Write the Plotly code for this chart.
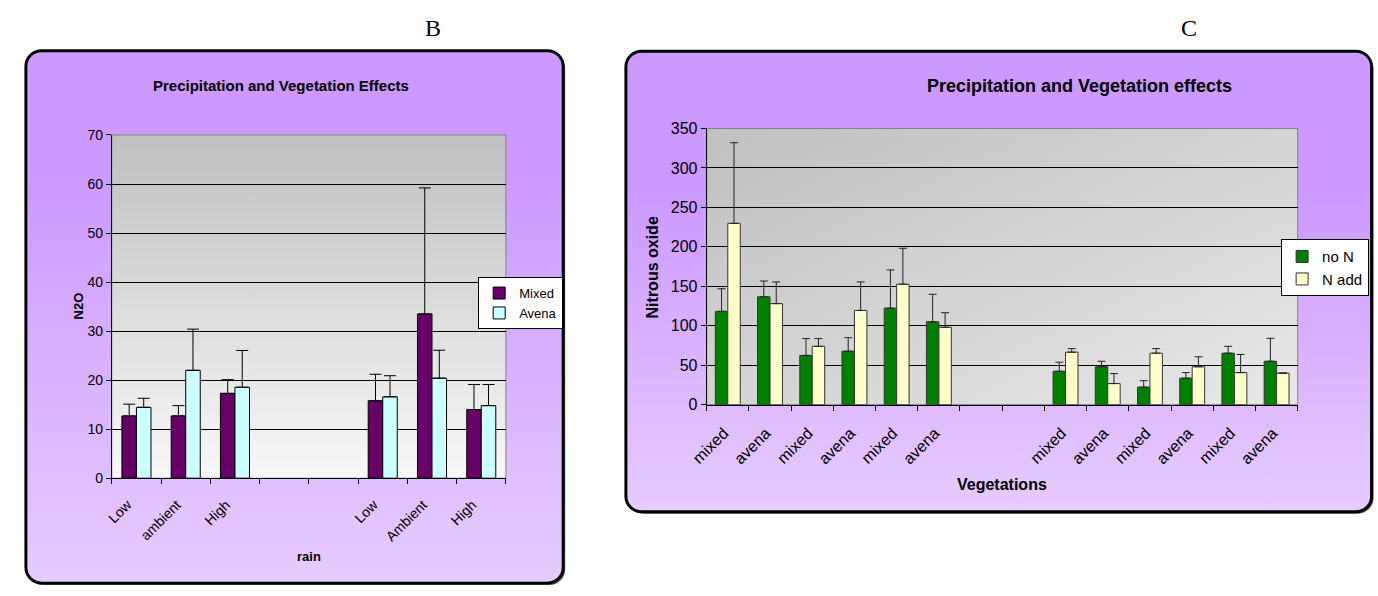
import base64
import plotly.graph_objects as go

W, H = 1378, 596

# ---------------- Panel B data ----------------
b_labels = ["Low", "ambient", "High", "", "", "Low", "Ambient", "High"]
b_mixed = [12.7, 12.7, 17.3, None, None, 15.8, 33.5, 14.0]
b_mixed_err = [2.4, 2.1, 2.8, None, None, 5.4, 25.7, 5.1]
b_avena = [14.45, 22.0, 18.55, None, None, 16.6, 20.4, 14.8]
b_avena_err = [1.85, 8.4, 7.5, None, None, 4.3, 5.7, 4.3]
b_yticks = [0, 10, 20, 30, 40, 50, 60, 70]

# ---------------- Panel C data ----------------
c_labels = ["mixed", "avena", "mixed", "avena", "mixed", "avena", "", "",
            "mixed", "avena", "mixed", "avena", "mixed", "avena"]
c_non = [118.2, 136.6, 62.4, 67.7, 122.3, 105.0, None, None,
         42.3, 48.0, 22.2, 33.6, 65.2, 55.0]
c_non_err = [28.7, 20.1, 21.3, 17.2, 48.4, 34.9, None, None,
             11.5, 7.0, 8.2, 7.0, 8.7, 29.1]
c_nadd = [229.8, 128.0, 73.9, 119.4, 152.6, 98.1, None, None,
          66.5, 26.7, 65.2, 48.0, 40.6, 39.8]
c_nadd_err = [102.2, 27.5, 9.8, 36.1, 45.6, 18.4, None, None,
              4.5, 12.7, 5.8, 12.7, 23.0, 0.4]
c_yticks = [0, 50, 100, 150, 200, 250, 300, 350]

# ---------------- layout geometry (pixels) ----------------
B_BOX = (9, 44, 553, 592)
C_BOX = (616.5, 44.5, 1371.5, 518.5)
B_PLOT = (96, 130.7, 495, 484)      # left, top, right, bottom
C_PLOT = (698.3, 124, 1296.7, 408.3)

SANS = "Liberation Sans, Arial, sans-serif"
SERIF = "Liberation Serif, Times New Roman, serif"


def px(x):
    return x / W


def py(y):
    return 1 - y / H


def rect(box, **attrs):
    l, t, r, b = box
    extra = " ".join(f'{k.replace("_", "-")}="{v}"' for k, v in attrs.items())
    return f'<rect x="{l}" y="{t}" width="{r - l}" height="{b - t}" {extra}/>'


svg = (
    f'<svg xmlns="http://www.w3.org/2000/svg" width="{W}" height="{H}" '
    f'viewBox="0 0 {W} {H}" preserveAspectRatio="none">'
    '<defs>'
    '<linearGradient id="pb" x1="0" y1="0" x2="0" y2="1">'
    '<stop offset="0" stop-color="#CC99FF"/><stop offset="0.22" stop-color="#CC99FF"/>'
    '<stop offset="1" stop-color="#E6CCFF"/></linearGradient>'
    '<linearGradient id="pc" x1="0" y1="0" x2="0" y2="1">'
    '<stop offset="0" stop-color="#CC99FF"/><stop offset="0.3" stop-color="#CC99FF"/>'
    '<stop offset="1" stop-color="#E6CCFF"/></linearGradient>'
    '<linearGradient id="gb" x1="0" y1="0" x2="0" y2="1">'
    '<stop offset="0" stop-color="#C0C0C0"/><stop offset="1" stop-color="#F8F8F8"/></linearGradient>'
    '<linearGradient id="gc" x1="0" y1="0" x2="1" y2="1">'
    '<stop offset="0" stop-color="#C0C0C0"/><stop offset="1" stop-color="#E8E8E8"/></linearGradient>'
    '</defs>'
    + rect((B_BOX[0] + 2, B_BOX[1] + 2, B_BOX[2] + 2, B_BOX[3] + 2), rx=16, fill="#555")
    + rect(B_BOX, rx=16, fill="url(#pb)", stroke="#000", stroke_width=3)
    + rect((C_BOX[0] + 2, C_BOX[1] + 2, C_BOX[2] + 2, C_BOX[3] + 2), rx=16, fill="#555")
    + rect(C_BOX, rx=16, fill="url(#pc)", stroke="#000", stroke_width=3)
    + rect(B_PLOT, fill="url(#gb)", stroke="#808080", stroke_width=1)
    + rect(C_PLOT, fill="url(#gc)", stroke="#808080", stroke_width=1)
    + '</svg>'
)
bg_src = "data:image/svg+xml;base64," + base64.b64encode(svg.encode()).decode()

b_x = list(range(len(b_labels)))
c_x = list(range(len(c_labels)))


def zeros(vals):
    return [0 if v is not None else None for v in vals]


fig = go.Figure()
fig.add_trace(go.Bar(
    x=b_x, y=b_mixed, name="Mixed", xaxis="x", yaxis="y", legend="legend",
    marker=dict(color="#660066", line=dict(color="black", width=1)),
    error_y=dict(type="data", symmetric=False, array=b_mixed_err,
                 arrayminus=zeros(b_mixed_err), color="black", thickness=1, width=6)))
fig.add_trace(go.Bar(
    x=b_x, y=b_avena, name="Avena", xaxis="x", yaxis="y", legend="legend",
    marker=dict(color="#CCFFFF", line=dict(color="black", width=1)),
    error_y=dict(type="data", symmetric=False, array=b_avena_err,
                 arrayminus=zeros(b_avena_err), color="black", thickness=1, width=6)))
fig.add_trace(go.Bar(
    x=c_x, y=c_non, name="no N", xaxis="x2", yaxis="y2", legend="legend2",
    marker=dict(color="#008000", line=dict(color="#333333", width=1)),
    error_y=dict(type="data", symmetric=False, array=c_non_err,
                 arrayminus=zeros(c_non_err), color="#222222", thickness=1, width=4)))
fig.add_trace(go.Bar(
    x=c_x, y=c_nadd, name="N add", xaxis="x2", yaxis="y2", legend="legend2",
    marker=dict(color="#FFFFCC", line=dict(color="#333333", width=1)),
    error_y=dict(type="data", symmetric=False, array=c_nadd_err,
                 arrayminus=zeros(c_nadd_err), color="#222222", thickness=1, width=4)))


def xaxis(plot, labels, size, standoff, shift, anchor):
    n = len(labels)
    return dict(
        domain=[px(plot[0]), px(plot[2])], range=[-0.5, n - 0.5], anchor=anchor,
        tickmode="array", tickvals=list(range(n)), ticktext=labels,
        tickangle=-45, ticks="", showline=True, linecolor="black", linewidth=1,
        showgrid=False, zeroline=False, fixedrange=True,
        ticklabelstandoff=standoff, ticklabelshift=shift,
        tickfont=dict(family=SANS, size=size, color="black"),
        minor=dict(tickmode="array", tickvals=[i - 0.5 for i in range(n + 1)],
                   ticks="outside", ticklen=5, tickcolor="black", tickwidth=1,
                   showgrid=False))


def yaxis(plot, ticks, size, anchor):
    return dict(
        domain=[py(plot[3]), py(plot[1])], range=[ticks[0], ticks[-1]], anchor=anchor,
        tickmode="array", tickvals=ticks, ticks="outside", ticklen=5,
        tickcolor="black", showline=True, linecolor="black", linewidth=1,
        showgrid=True, gridcolor="black", gridwidth=1, zeroline=False,
        fixedrange=True, tickfont=dict(family=SANS, size=size, color="black"))


ann = []


def text(x, y, s, size, bold=False, family=SANS, angle=0):
    ann.append(dict(x=px(x), y=py(y), xref="paper", yref="paper", showarrow=False,
                    text=f"<b>{s}</b>" if bold else s, textangle=angle,
                    xanchor="center", yanchor="middle",
                    font=dict(family=family, size=size, color="black")))


text(421, 21, "B", 24, family=SERIF)
text(1187, 21, "C", 24, family=SERIF)
text(267, 80, "Precipitation and Vegetation Effects", 15, bold=True)
text(1076, 80, "Precipitation and Vegetation effects", 18, bold=True)
text(62, 307, "N2O", 13, bold=True, angle=-90)
text(296, 565, "rain", 13, bold=True)
text(643, 267, "Nitrous oxide", 16, bold=True, angle=-90)
text(997, 490, "Vegetations", 16, bold=True)

fig.update_layout(
    width=W, height=H, margin=dict(l=0, r=0, t=0, b=0, pad=0),
    paper_bgcolor="white", plot_bgcolor="rgba(0,0,0,0)",
    barmode="group", bargap=0.41, bargroupgap=0,
    xaxis=xaxis(B_PLOT, b_labels, 14, 12, -9, "y"),
    yaxis=yaxis(B_PLOT, b_yticks, 14, "x"),
    xaxis2=xaxis(C_PLOT, c_labels, 16, 12, -4, "y2"),
    yaxis2=yaxis(C_PLOT, c_yticks, 16, "x2"),
    legend=dict(x=px(553), y=py(277), xanchor="right", yanchor="top",
                bgcolor="white", bordercolor="black", borderwidth=1,
                font=dict(family=SANS, size=13, color="black"), tracegroupgap=0),
    legend2=dict(x=px(1369), y=py(238), xanchor="right", yanchor="top",
                 bgcolor="white", bordercolor="black", borderwidth=1,
                 font=dict(family=SANS, size=15, color="black"), tracegroupgap=0),
    annotations=ann,
    images=[dict(source=bg_src, xref="paper", yref="paper", x=0, y=1, sizex=1, sizey=1,
                 xanchor="left", yanchor="top", sizing="stretch", layer="below")],
)

POST = (
    "document.documentElement.style.margin='0';"
    "document.body.style.margin='0';"
    "document.body.style.padding='0';"
    "document.body.style.overflow='hidden';"
    "document.documentElement.style.overflow='hidden';"
    "var d=document.getElementsByClassName('plotly-graph-div')[0];"
    "if(d){d.style.position='fixed';d.style.left='0px';d.style.top='0px';}"
    "window.scrollTo(0,0);"
)

fig.write_html("out.html", config={"displayModeBar": False}, post_script=POST)
